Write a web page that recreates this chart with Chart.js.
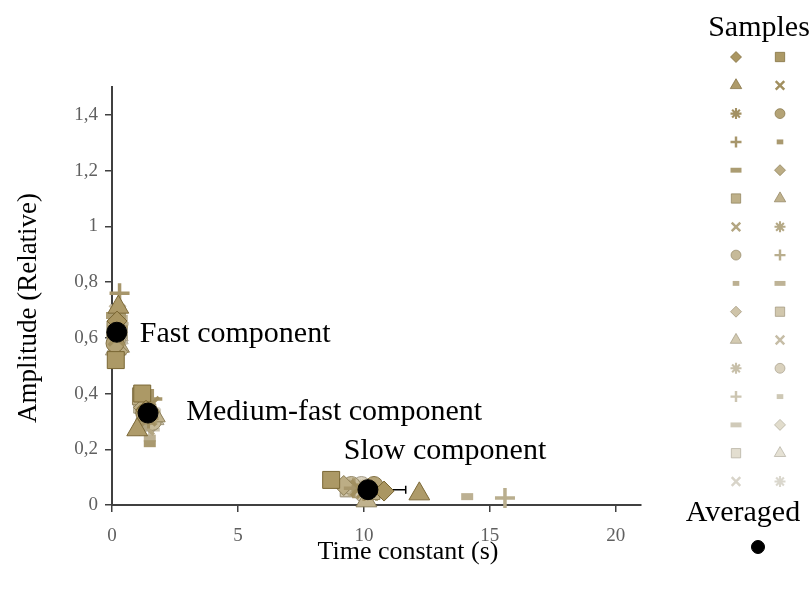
<!DOCTYPE html>
<html>
<head>
<meta charset="utf-8">
<script src="https://cdn.jsdelivr.net/npm/chart.js@4.4.1/dist/chart.umd.min.js"></script>
<style>
  body { margin: 0; background: #fff; }
  #wrap { width: 812px; height: 596px; position: relative; }
</style>
</head>
<body>
<div id="wrap"><canvas id="myChart"></canvas></div>
<script>
// one value per sample (32 samples)
const fastX = [0.20, 0.15, 0.25, 0.18, 0.22, 0.12, 0.30, 0.20, 0.16, 0.24, 0.14, 0.28, 0.19, 0.21, 0.17, 0.26,
               0.13, 0.23, 0.20, 0.27, 0.15, 0.22, 0.18, 0.25, 0.16, 0.21, 0.19, 0.24, 0.17, 0.23, 0.20, 0.18];
const fastY = [0.66, 0.52, 0.71, 0.60, 0.64, 0.58, 0.76, 0.62, 0.68, 0.55, 0.63, 0.57, 0.66, 0.61, 0.59, 0.65,
               0.54, 0.67, 0.60, 0.62, 0.56, 0.69, 0.58, 0.63, 0.61, 0.57, 0.64, 0.59, 0.62, 0.60, 0.58, 0.61];
const medX = [1.35, 1.20, 1.00, 1.55, 1.45, 1.30, 1.60, 1.50, 1.40, 1.25, 1.15, 1.70, 1.35, 1.45, 1.60, 1.30,
              1.50, 1.40, 1.55, 1.20, 1.65, 1.35, 1.45, 1.30, 1.50, 1.40, 1.55, 1.25, 1.45, 1.35, 1.60, 1.40];
const medY = [0.34, 0.40, 0.27, 0.36, 0.31, 0.33, 0.38, 0.22, 0.30, 0.35, 0.39, 0.32, 0.28, 0.34, 0.30, 0.37,
              0.24, 0.33, 0.29, 0.36, 0.31, 0.35, 0.32, 0.30, 0.27, 0.34, 0.33, 0.29, 0.31, 0.35, 0.32, 0.33];
const slowX = [10.8, 8.7, 12.2, 9.8, 10.0, 10.4, 9.6, 10.2, 9.9, 9.2, 10.3, 10.1, 9.7, 10.5, 9.5, 15.6,
               14.1, 10.0, 9.8, 9.4, 10.2, 9.6, 10.3, 9.9, 10.1, 9.3, 10.0, 9.7, 9.4, 10.2, 9.8, 10.4];
const slowY = [0.05, 0.09, 0.04, 0.06, 0.05, 0.07, 0.06, 0.05, 0.06, 0.07, 0.05, 0.015, 0.06, 0.05, 0.07, 0.025,
               0.03, 0.06, 0.05, 0.06, 0.05, 0.06, 0.05, 0.07, 0.06, 0.06, 0.05, 0.06, 0.06, 0.05, 0.07, 0.06];

// averaged points (fast, medium-fast, slow) and plus-direction error in x
const avgX = [0.19, 1.43, 10.16];
const avgY = [0.62, 0.33, 0.055];
const avgErrX = [0.1, 0.2, 1.5];

const xTicks = [0, 5, 10, 15, 20];
const yTicks = [0, 0.2, 0.4, 0.6, 0.8, 1, 1.2, 1.4];
const yTickLabels = ['0', '0,2', '0,4', '0,6', '0,8', '1', '1,2', '1,4'];

const componentLabels = ['Fast component', 'Medium-fast component', 'Slow component'];
// where each label starts (left edge / baseline), in data units
const labelX = [1.1, 2.95, 9.2];
const labelY = [0.585, 0.305, 0.165];

// excel-like marker cycle
const markerCycle = [
  { style: 'rectRot', r: 10, bw: 1 },
  { style: 'rect', r: 12, bw: 1 },
  { style: 'triangle', r: 12, bw: 1 },
  { style: 'crossRot', r: 11, bw: 3.5 },
  { style: 'star', r: 10, bw: 3 },
  { style: 'circle', r: 9, bw: 1 },
  { style: 'cross', r: 10, bw: 3.5 },
  { style: 'line', r: 6, bw: 7 },
  { style: 'line', r: 10, bw: 7 }
];

const serif = '"Liberation Serif", "DejaVu Serif", serif';

function sampleColor(i, shade) {
  const t = i / 31;
  const r = Math.round(170 + (233 - 170) * t) - shade;
  const g = Math.round(150 + (230 - 150) * t) - shade;
  const b = Math.round(98 + (220 - 98) * t) - shade;
  return `rgb(${r},${g},${b})`;
}

const datasets = [];
datasets.push({
  label: 'Averaged',
  data: avgX.map((x, i) => ({ x: x, y: avgY[i] })),
  pointStyle: 'circle',
  pointRadius: 10,
  backgroundColor: '#000',
  borderColor: '#000',
  clip: false,
  order: 0
});
for (let i = 0; i < fastX.length; i++) {
  const m = markerCycle[i % markerCycle.length];
  const filled = ['rectRot', 'rect', 'triangle', 'circle'].includes(m.style);
  datasets.push({
    label: 'Sample ' + (i + 1),
    data: [
      { x: fastX[i], y: fastY[i] },
      { x: medX[i], y: medY[i] },
      { x: slowX[i], y: slowY[i] }
    ],
    pointStyle: m.style,
    pointRadius: m.r,
    pointBorderWidth: m.bw,
    backgroundColor: sampleColor(i, 0),
    borderColor: filled ? sampleColor(i, 50) : sampleColor(i, 15),
    clip: false,
    order: 1
  });
}

// error bars, drawn under the markers
const errorBars = {
  id: 'errorBars',
  beforeDatasetsDraw(chart) {
    const ctx = chart.ctx;
    const xs = chart.scales.x, ys = chart.scales.y;
    ctx.save();
    ctx.strokeStyle = '#000';
    ctx.lineWidth = 1.5;
    avgX.forEach((x, i) => {
      const px = xs.getPixelForValue(x);
      const pe = xs.getPixelForValue(x + avgErrX[i]);
      const py = ys.getPixelForValue(avgY[i]);
      ctx.beginPath();
      ctx.moveTo(px, py);
      ctx.lineTo(pe, py);
      ctx.moveTo(pe, py - 4);
      ctx.lineTo(pe, py + 4);
      ctx.stroke();
    });
    ctx.restore();
  }
};

// texts: axis titles, component labels, legend
const texts = {
  id: 'texts',
  afterDraw(chart) {
    const ctx = chart.ctx;
    const xs = chart.scales.x, ys = chart.scales.y;
    ctx.save();
    ctx.fillStyle = '#000';
    ctx.font = '30px ' + serif;
    ctx.textAlign = 'left';
    ctx.textBaseline = 'alphabetic';
    componentLabels.forEach((t, i) => {
      ctx.fillText(t, xs.getPixelForValue(labelX[i]), ys.getPixelForValue(labelY[i]));
    });

    ctx.font = '26px ' + serif;
    ctx.textAlign = 'center';
    ctx.textBaseline = 'middle';
    ctx.fillText('Time constant (s)', 408, 552);
    ctx.save();
    ctx.translate(29, 308);
    ctx.rotate(-Math.PI / 2);
    ctx.font = '27px ' + serif;
    ctx.fillText('Amplitude (Relative)', 0, 0);
    ctx.restore();

    // legend
    ctx.font = '30px ' + serif;
    ctx.textBaseline = 'alphabetic';
    ctx.fillText('Samples', 759, 36);
    ctx.fillText('Averaged', 743, 521);
    const drawPoint = Chart.helpers.drawPoint;
    chart.data.datasets.forEach((ds, k) => {
      if (k === 0) return;
      const i = k - 1;
      const m = markerCycle[i % markerCycle.length];
      const lx = i % 2 === 0 ? 736 : 780;
      const ly = 57 + 28.3 * Math.floor(i / 2);
      ctx.fillStyle = ds.backgroundColor;
      ctx.strokeStyle = ds.borderColor;
      ctx.lineWidth = m.bw * 0.7;
      drawPoint(ctx, { pointStyle: m.style, radius: m.r * 0.55, borderWidth: m.bw * 0.7, rotation: 0 }, lx, ly);
    });
    ctx.fillStyle = '#000';
    ctx.strokeStyle = '#000';
    ctx.lineWidth = 1;
    drawPoint(ctx, { pointStyle: 'circle', radius: 6.5, borderWidth: 1, rotation: 0 }, 758, 547);
    ctx.restore();
  }
};

const axisColor = '#404040';
const tickFont = { family: serif, size: 19 };

new Chart(document.getElementById('myChart'), {
  type: 'scatter',
  data: { datasets: datasets },
  options: {
    responsive: true,
    maintainAspectRatio: false,
    animation: false,
    layout: { padding: { top: 87, right: 171, left: 0, bottom: 0 } },
    plugins: { legend: { display: false }, tooltip: { enabled: false } },
    scales: {
      x: {
        type: 'linear',
        min: 0,
        max: 21,
        bounds: 'data',
        afterBuildTicks: s => { s.ticks = xTicks.map(v => ({ value: v })); },
        afterFit: s => { s.height = 91; },
        ticks: { font: tickFont, color: '#606060', padding: 13, maxRotation: 0, autoSkip: false },
        grid: { drawOnChartArea: false, drawTicks: true, tickLength: 7, color: axisColor, lineWidth: 1.5 },
        border: { display: true, color: axisColor, width: 2 }
      },
      y: {
        type: 'linear',
        min: 0,
        max: 1.5,
        bounds: 'data',
        afterBuildTicks: s => { s.ticks = yTicks.map(v => ({ value: v })); },
        afterFit: s => { s.width = 112; },
        ticks: {
          font: tickFont,
          color: '#606060',
          padding: 7,
          autoSkip: false,
          callback: (v, i) => yTickLabels[i]
        },
        grid: { drawOnChartArea: false, drawTicks: true, tickLength: 7, color: axisColor, lineWidth: 1.5 },
        border: { display: true, color: axisColor, width: 2 }
      }
    }
  },
  plugins: [errorBars, texts]
});
</script>
</body>
</html>
